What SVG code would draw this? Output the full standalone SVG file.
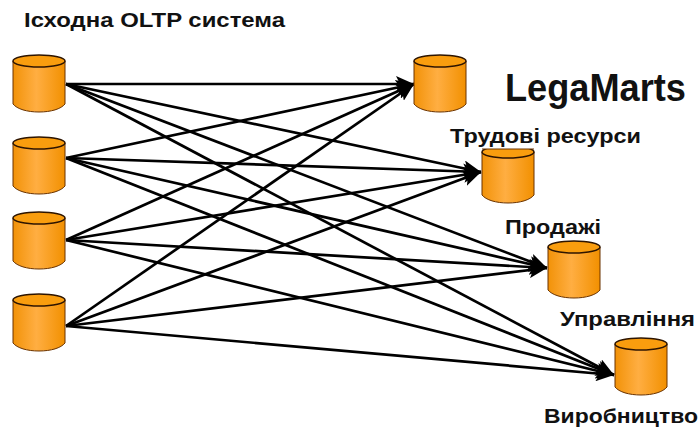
<svg xmlns="http://www.w3.org/2000/svg" width="699" height="434" viewBox="0 0 699 434">
<defs>
<linearGradient id="g" x1="0" x2="1" y1="0" y2="0"><stop offset="0" stop-color="#f29208"/><stop offset="0.45" stop-color="#ffae42"/><stop offset="1" stop-color="#f29000"/></linearGradient>
<marker id="a" markerUnits="userSpaceOnUse" markerWidth="20" markerHeight="16" refX="18" refY="8" orient="auto"><path d="M0 0L18 8L0 16L4 8Z" fill="#000"/></marker>
<g id="cyl"><path class="b" d="M0 7V50C4 55 14 58 26 58C38 58 48 55 52 50V7Z"/><ellipse class="t" cx="26" cy="7" rx="26" ry="6"/></g>
</defs>
<style>
.b{fill:url(#g);stroke:#6a3300;stroke-width:1}
.t{fill:#f99d0e;stroke:#2e1500;stroke-width:1.5}
.l{stroke:#000;stroke-width:2.7;fill:none;marker-end:url(#a)}
text{font-family:"Liberation Sans",Arial,sans-serif;font-weight:700;fill:#111;font-size:20px}
</style>
<rect width="699" height="434" fill="#fff"/>
<g id="connectors">
<path class="l" d="M66 84L414 84"/><path class="l" d="M66 84L481 172"/><path class="l" d="M66 84L547 268"/><path class="l" d="M66 84L614 375"/>
<path class="l" d="M66 158L414 84"/><path class="l" d="M66 158L481 172"/><path class="l" d="M66 158L547 268"/><path class="l" d="M66 158L614 375"/>
<path class="l" d="M66 240L414 84"/><path class="l" d="M66 240L481 172"/><path class="l" d="M66 240L547 268"/><path class="l" d="M66 240L614 375"/>
<path class="l" d="M66 326L414 84"/><path class="l" d="M66 326L481 172"/><path class="l" d="M66 326L547 268"/><path class="l" d="M66 326L614 375"/>
</g>
<g id="src1"><use href="#cyl" x="13" y="54"/></g>
<g id="src2"><use href="#cyl" x="13" y="136"/></g>
<g id="src3"><use href="#cyl" x="13" y="211"/></g>
<g id="src4"><use href="#cyl" x="13" y="293"/></g>
<g id="mart1"><use href="#cyl" x="414" y="54"/></g>
<g id="mart2"><use href="#cyl" x="482" y="145"/><rect x="480" y="140" width="56" height="9" fill="#fff"/><path d="M482 149H534" stroke="#6a3300" stroke-width="1"/></g>
<g id="mart3"><use href="#cyl" x="548" y="240"/></g>
<g id="mart4"><use href="#cyl" x="615" y="337"/></g>
<g id="labels">
<text x="24" y="27" textLength="261" lengthAdjust="spacingAndGlyphs">Ісходна OLTP система</text>
<text x="505" y="101" textLength="181" lengthAdjust="spacingAndGlyphs" style="font-size:39px">LegaMarts</text>
<text x="450" y="143" textLength="191" lengthAdjust="spacingAndGlyphs">Трудові ресурси</text>
<text x="505" y="234" textLength="96" lengthAdjust="spacingAndGlyphs">Продажі</text>
<text x="560" y="326" textLength="135" lengthAdjust="spacingAndGlyphs">Управління</text>
<text x="544" y="423" textLength="154" lengthAdjust="spacingAndGlyphs">Виробництво</text>
</g>
</svg>
